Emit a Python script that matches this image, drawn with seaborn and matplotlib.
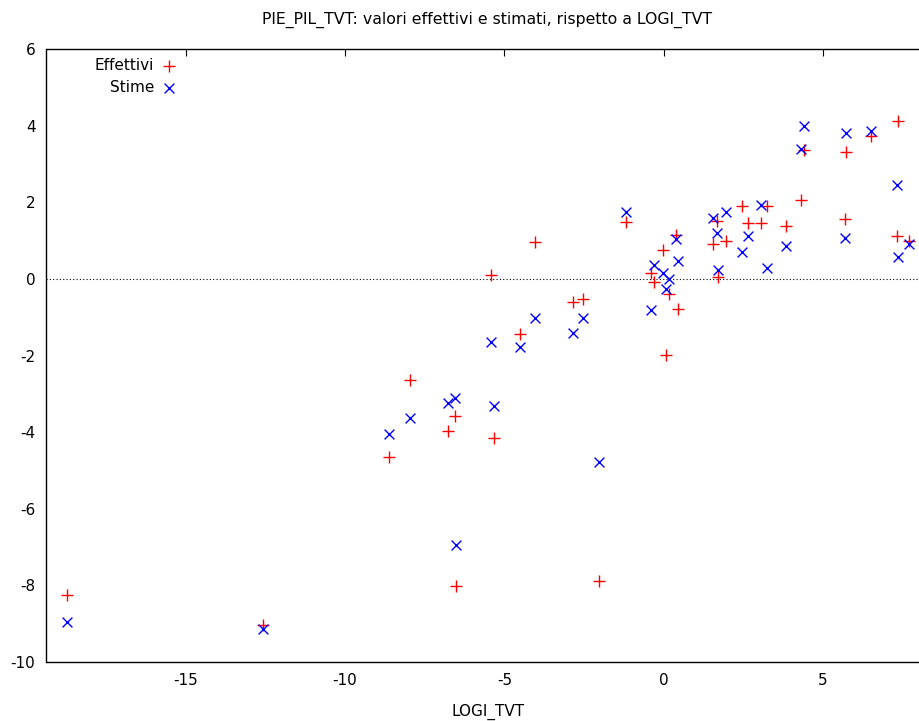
import pandas as pd
import matplotlib
matplotlib.use("Agg")
import matplotlib.pyplot as plt
import seaborn as sns

logi_tvt = [-18.73, -12.59, -8.61, -7.96, -6.76, -6.55, -6.51, -5.42, -5.32, -4.51,
            -4.03, -2.85, -2.52, -2.02, -1.20, -0.40, -0.32, -0.02, 0.17, 0.08,
            0.39, 0.45, 1.53, 1.66, 1.70, 1.95, 2.44, 2.63, 3.05, 3.23,
            3.82, 4.32, 4.40, 5.68, 5.71, 6.51, 7.32, 7.36, 7.68]
effettivi = [-8.25, -9.03, -4.64, -2.63, -3.96, -3.57, -8.02, 0.09, -4.16, -1.44,
             0.97, -0.61, -0.52, -7.89, 1.48, 0.15, -0.07, 0.76, -0.39, -1.98,
             1.15, -0.78, 0.90, 1.50, 0.04, 0.99, 1.90, 1.45, 1.45, 1.90,
             1.39, 2.07, 3.37, 1.57, 3.32, 3.72, 1.11, 4.13, 0.98]
stime = [-8.96, -9.13, -4.05, -3.64, -3.24, -3.12, -6.95, -1.65, -3.33, -1.78,
         -1.03, -1.41, -1.03, -4.79, 1.74, -0.82, 0.36, 0.16, 0.00, -0.27,
         1.03, 0.46, 1.58, 1.20, 0.24, 1.74, 0.70, 1.11, 1.93, 0.28,
         0.85, 3.38, 4.00, 1.07, 3.80, 3.87, 2.46, 0.57, 0.90]

df = pd.DataFrame({'LOGI_TVT': logi_tvt, 'Effettivi': effettivi, 'Stime': stime})

sns.set_style('white')
plt.rcParams['font.family'] = ['DejaVu Sans']
plt.rcParams['axes.unicode_minus'] = False
plt.rcParams['text.color'] = 'black'

fig = plt.figure(figsize=(9.2, 7.21), dpi=100)
ax = fig.add_axes([46.5 / 920, 1 - 662 / 721, 1 - 46.5 / 920, (662 - 49) / 721])

ax.axhline(0, color='black', linestyle=(0, (1, 2)), linewidth=0.8, zorder=1)

sns.scatterplot(data=df, x='LOGI_TVT', y='Effettivi', marker='+', color='#ff0000',
                s=80, linewidth=1.0, label='Effettivi', ax=ax, zorder=3)
sns.scatterplot(data=df, x='LOGI_TVT', y='Stime', marker='x', color='#0000ff',
                s=50, linewidth=1.0, label='Stime', ax=ax, zorder=3)

ax.set_xlim(-19.37, 8.04)
ax.set_ylim(-10, 6)
ax.set_xticks([-15, -10, -5, 0, 5])
ax.set_yticks([-10, -8, -6, -4, -2, 0, 2, 4, 6])
ax.tick_params(axis='x', direction='in', length=5, width=0.8, top=True, pad=8,
               labelsize=11, colors='black')
ax.tick_params(axis='y', direction='in', length=5, width=0.8, right=False, pad=8,
               labelsize=11, colors='black')
for side in ['left', 'bottom', 'top']:
    ax.spines[side].set_color('black')
    ax.spines[side].set_linewidth(1.0)
ax.spines['right'].set_visible(False)
ax.set_xlabel('')
ax.set_ylabel('')

leg = ax.legend(loc='upper right', bbox_to_anchor=(177 / 920, 1 - 58 / 721),
                bbox_transform=fig.transFigure, markerfirst=False, frameon=False,
                fontsize=11, handlelength=1.0, handletextpad=0.5, labelspacing=0.45,
                borderpad=0, borderaxespad=0)
for t in leg.get_texts():
    t.set_color('black')

fig.text(487 / 920, 1 - 20 / 721, 'PIE_PIL_TVT: valori effettivi e stimati, rispetto a LOGI_TVT',
         ha='center', va='center', fontsize=11.3)
fig.text(488 / 920, 1 - 712 / 721, 'LOGI_TVT', ha='center', va='center', fontsize=11)

fig.savefig('out.png', dpi=100)
